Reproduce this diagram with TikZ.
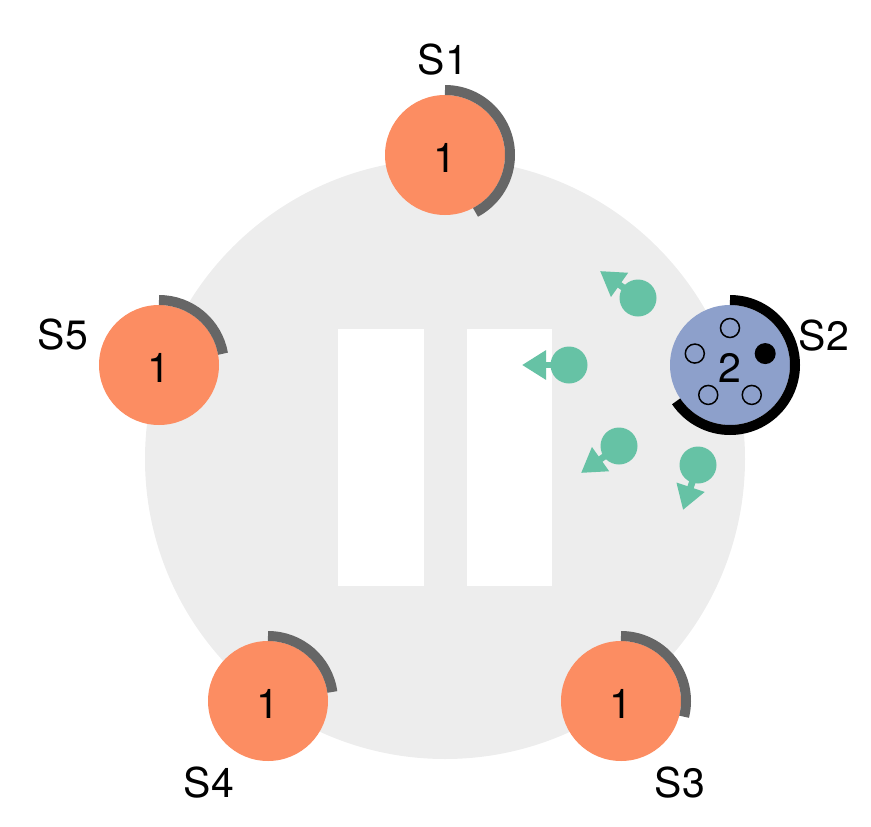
\documentclass[tikz,border=0pt]{standalone}
\usepackage{fontspec}
\setmainfont{TeX Gyre Heros}
\usetikzlibrary{arrows.meta}
\definecolor{bgray}{HTML}{EDEDED}
\definecolor{arcgray}{HTML}{666666}
\definecolor{sorange}{HTML}{FC8D62}
\definecolor{sblue}{HTML}{8DA0CB}
\definecolor{sgreen}{HTML}{66C2A5}
\begin{document}
\begin{tikzpicture}[x=1pt,y=-1pt,
  server/.style={circle,fill=sorange,minimum size=120pt,inner sep=0pt,draw=none},
  leader/.style={circle,fill=sblue,minimum size=120pt,inner sep=0pt,draw=none},
  txt/.style={inner sep=0pt,font=\fontsize{41}{46}\selectfont},
  ring/.style={draw=arcgray,line width=10pt},
  leadring/.style={draw=black,line width=10pt},
  hole/.style={circle,draw=black,line width=1.5pt,minimum size=19pt,inner sep=0pt},
  dot/.style={circle,fill=black,minimum size=21pt,inner sep=0pt},
  ball/.style={circle,fill=sgreen,minimum size=37pt,inner sep=0pt},
  msg/.style={draw=sgreen,line width=6.5pt,-{Triangle[length=24pt,width=28pt]}}]
\useasboundingbox (0,0) rectangle (871,827);
% background
\fill[bgray] (445,459) circle[radius=300];
\fill[white] (338,329) rectangle (424,586);
\fill[white] (467,329) rectangle (552,586);
% messages
\node[ball] (g1) at (638,298) {};
\node[ball] (g2) at (569,365) {};
\node[ball] (g3) at (619,446) {};
\node[ball] (g4) at (698,465) {};
\coordinate (t1) at (600,271);
\coordinate (t2) at (522,365);
\coordinate (t3) at (581,473);
\coordinate (t4) at (683,510);
\draw[msg] (g1.center) -- (t1);
\draw[msg] (g2.center) -- (t2);
\draw[msg] (g3.center) -- (t3);
\draw[msg] (g4.center) -- (t4);
% servers
\node[server] (s1) at (445,155) {};
\node[leader] (s2) at (730,365) {};
\node[server] (s3) at (621,701) {};
\node[server] (s4) at (268,701) {};
\node[server] (s5) at (159,365) {};
% rings
\draw[ring] (s1.center) ++(-90:65) arc[start angle=-90,end angle=62,radius=65];
\draw[leadring] (s2.center) ++(-90:65) arc[start angle=-90,end angle=146,radius=65];
\draw[ring] (s3.center) ++(-90:65) arc[start angle=-90,end angle=14,radius=65];
\draw[ring] (s4.center) ++(-90:65) arc[start angle=-90,end angle=-8,radius=65];
\draw[ring] (s5.center) ++(-90:65) arc[start angle=-90,end angle=-10,radius=65];
% leader log slots
\path (s2.center) ++(-90:37) node[hole] (h1) {};
\path (s2.center) ++(-162:37) node[hole] (h2) {};
\path (s2.center) ++(-234:37) node[hole] (h3) {};
\path (s2.center) ++(-306:37) node[hole] (h4) {};
\path (s2.center) ++(-18:37) node[dot] (h5) {};
% terms
\node[txt] (n1) at (445,158) {1};
\node[txt] (n2) at (730,368) {2};
\node[txt] (n3) at (621,704) {1};
\node[txt] (n4) at (268,704) {1};
\node[txt] (n5) at (159,368) {1};
% labels
\node[txt] (l1) at (443,60) {S1};
\node[txt] (l2) at (824,336) {S2};
\node[txt] (l3) at (680,783) {S3};
\node[txt] (l4) at (209,783) {S4};
\node[txt] (l5) at (63,335) {S5};
\end{tikzpicture}
\end{document}
